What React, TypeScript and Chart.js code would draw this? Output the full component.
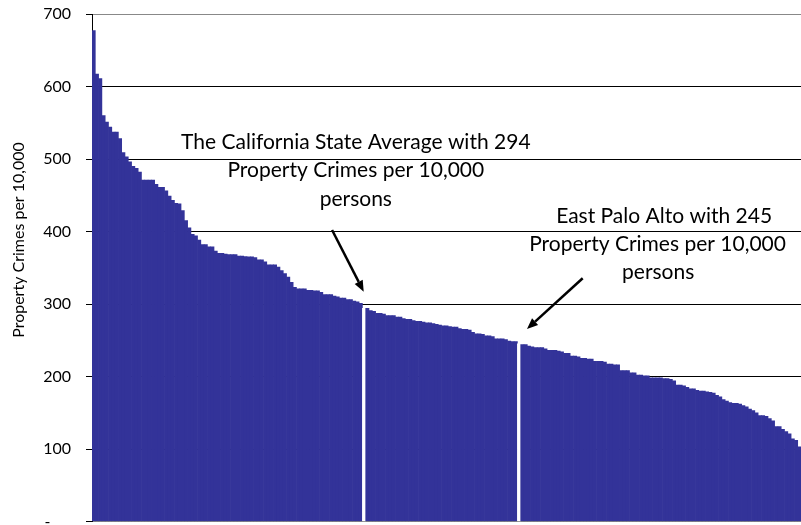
import { useEffect, useRef } from 'react';
import { Chart, registerables } from 'chart.js';

Chart.register(...registerables);

// Property crimes per 10,000 persons, California cities ranked from highest to lowest
const crimeRates: number[] = [
  677, 617, 611, 560, 551, 544, 537, 537, 528, 509,
  503, 496, 490, 487, 482, 471, 471, 471, 471, 465,
  461, 461, 456, 449, 443, 439, 438, 429, 415, 405,
  396, 394, 388, 382, 382, 379, 379, 373, 370, 370,
  369, 368, 368, 368, 366, 366, 365.5, 365, 365, 364,
  361, 361, 358, 354, 354, 354, 351, 346, 342, 337,
  330, 323, 321, 321, 321, 319, 319, 318, 318, 316,
  313, 313, 313, 311, 310, 308, 308, 306, 306, 304,
  303, 301, 294, 294, 291, 290, 287, 287, 286, 284,
  284, 284, 282, 282, 280, 279, 279, 277, 276, 276,
  275, 274, 274, 273, 272, 271, 270, 270, 269, 268,
  268, 266, 265, 265, 264, 261, 259, 259, 258, 256,
  256, 255, 252, 252, 252, 251, 249, 248, 248, 245,
  244, 244, 242, 241, 240, 240, 240, 238, 236, 236,
  236, 235, 234, 232, 232, 228, 228, 227, 225, 225,
  224, 224, 221, 221, 221, 220, 217, 217, 216, 216,
  208, 208, 208, 205, 205, 202, 202, 201, 201, 198,
  198, 198, 198, 197, 197, 196, 194, 188, 188, 187,
  185, 183, 183, 181, 180, 180, 179, 178, 177, 174,
  172, 168, 166, 164, 163, 163, 162, 160, 158, 155,
  153, 150, 146, 146, 145, 142, 139, 131, 131, 127,
  124, 121, 114, 112, 103,
];

// Ranks (0-based) of the two highlighted entries, drawn as white bars
const stateAverageRank = 82;
const eastPaloAltoRank = 129;

const rankLabels: string[] = crimeRates.map((_, i) => String(i + 1));

const yAxisTitle = 'Property Crimes per 10,000';

const stateAverageNote = ['The California State Average with 294', 'Property Crimes per 10,000', 'persons'];
const eastPaloAltoNote = ['East Palo Alto with 245', 'Property Crimes per 10,000', 'persons'];

const BAR_COLOR = '#333399';
const FONT = 'Lato, "Open Sans", sans-serif';

type NoteLine = { text: string; x: number; y: number };
type Arrow = { fromX: number; fromY: number; toX: number; toY: number };

// Anchors in data coordinates (x = rank index, y = crime rate value)
const noteLines: NoteLine[] = [
  { text: stateAverageNote[0], x: 79.5, y: 513.5 },
  { text: stateAverageNote[1], x: 79.5, y: 474.8 },
  { text: stateAverageNote[2], x: 79.5, y: 435.2 },
  { text: eastPaloAltoNote[0], x: 173.0, y: 411.7 },
  { text: eastPaloAltoNote[1], x: 171.0, y: 373.1 },
  { text: eastPaloAltoNote[2], x: 171.2, y: 334.5 },
];

const arrows: Arrow[] = [
  { fromX: 72.3, fromY: 402, toX: 81.9, toY: 317 },
  { fromX: 148.3, fromY: 335.5, toX: 131.4, toY: 265.5 },
];

const notesPlugin = {
  id: 'notes',
  afterDatasetsDraw(chart: any) {
    const { ctx } = chart;
    const xs = chart.scales.x;
    const ys = chart.scales.y;
    ctx.save();
    ctx.fillStyle = '#000';
    ctx.strokeStyle = '#000';
    ctx.font = `21px ${FONT}`;
    ctx.textAlign = 'center';
    ctx.textBaseline = 'alphabetic';
    for (const l of noteLines) {
      ctx.fillText(l.text, xs.getPixelForValue(l.x), ys.getPixelForValue(l.y));
    }
    for (const a of arrows) {
      const x1 = xs.getPixelForValue(a.fromX);
      const y1 = ys.getPixelForValue(a.fromY);
      const x2 = xs.getPixelForValue(a.toX);
      const y2 = ys.getPixelForValue(a.toY);
      const ang = Math.atan2(y2 - y1, x2 - x1);
      const headLen = 11;
      const headHalf = 4.5;
      const bx = x2 - headLen * Math.cos(ang);
      const by = y2 - headLen * Math.sin(ang);
      ctx.lineWidth = 2.5;
      ctx.beginPath();
      ctx.moveTo(x1, y1);
      ctx.lineTo(bx, by);
      ctx.stroke();
      ctx.beginPath();
      ctx.moveTo(x2, y2);
      ctx.lineTo(bx + headHalf * Math.sin(ang), by - headHalf * Math.cos(ang));
      ctx.lineTo(bx - headHalf * Math.sin(ang), by + headHalf * Math.cos(ang));
      ctx.closePath();
      ctx.fill();
    }
    // Y axis title
    ctx.font = `16px ${FONT}`;
    ctx.textBaseline = 'middle';
    ctx.translate(19, 240);
    ctx.rotate(-Math.PI / 2);
    ctx.fillText(yAxisTitle, 0, 0);
    ctx.restore();
  },
};

export default function App() {
  const canvasRef = useRef<HTMLCanvasElement | null>(null);

  useEffect(() => {
    if (!canvasRef.current) return;
    const colors = crimeRates.map((_, i) =>
      i === stateAverageRank || i === eastPaloAltoRank ? '#ffffff' : BAR_COLOR
    );
    const chart = new Chart(canvasRef.current, {
      type: 'bar',
      data: {
        labels: rankLabels,
        datasets: [
          {
            data: crimeRates,
            backgroundColor: colors,
            borderWidth: 0,
            barPercentage: 1,
            categoryPercentage: 1,
          },
        ],
      },
      options: {
        animation: false,
        responsive: false,
        devicePixelRatio: 1,
        layout: { padding: { top: 14, bottom: 38.5, left: 0, right: 0 } },
        plugins: { legend: { display: false }, tooltip: { enabled: false } },
        scales: {
          x: { display: false, offset: true },
          y: {
            min: 0,
            max: 700,
            ticks: {
              stepSize: 100,
              color: '#000',
              padding: 15,
              font: { family: FONT, size: 16 },
              callback: (v: any) => (Number(v) === 0 ? '-     ' : String(v)),
            },
            grid: {
              color: (c: any) =>
                c.tick && (c.tick.value === 700 || c.tick.value === 0) ? '#888888' : '#000000',
              lineWidth: 1,
              drawTicks: true,
              tickLength: 6,
              tickColor: '#000000',
            },
            border: { color: '#000000', width: 1 },
            afterFit: (scale: any) => {
              scale.width = 92;
              scale.paddingTop = 10;
              scale.paddingBottom = 10;
            },
          },
        },
      },
      plugins: [notesPlugin],
    });
    return () => chart.destroy();
  }, []);

  return (
    <div style={{ position: 'absolute', left: 0, top: 0, width: 801, height: 525, overflow: 'hidden', background: '#fff' }}>
      <canvas ref={canvasRef} width={801} height={560} style={{ display: 'block' }} />
    </div>
  );
}
